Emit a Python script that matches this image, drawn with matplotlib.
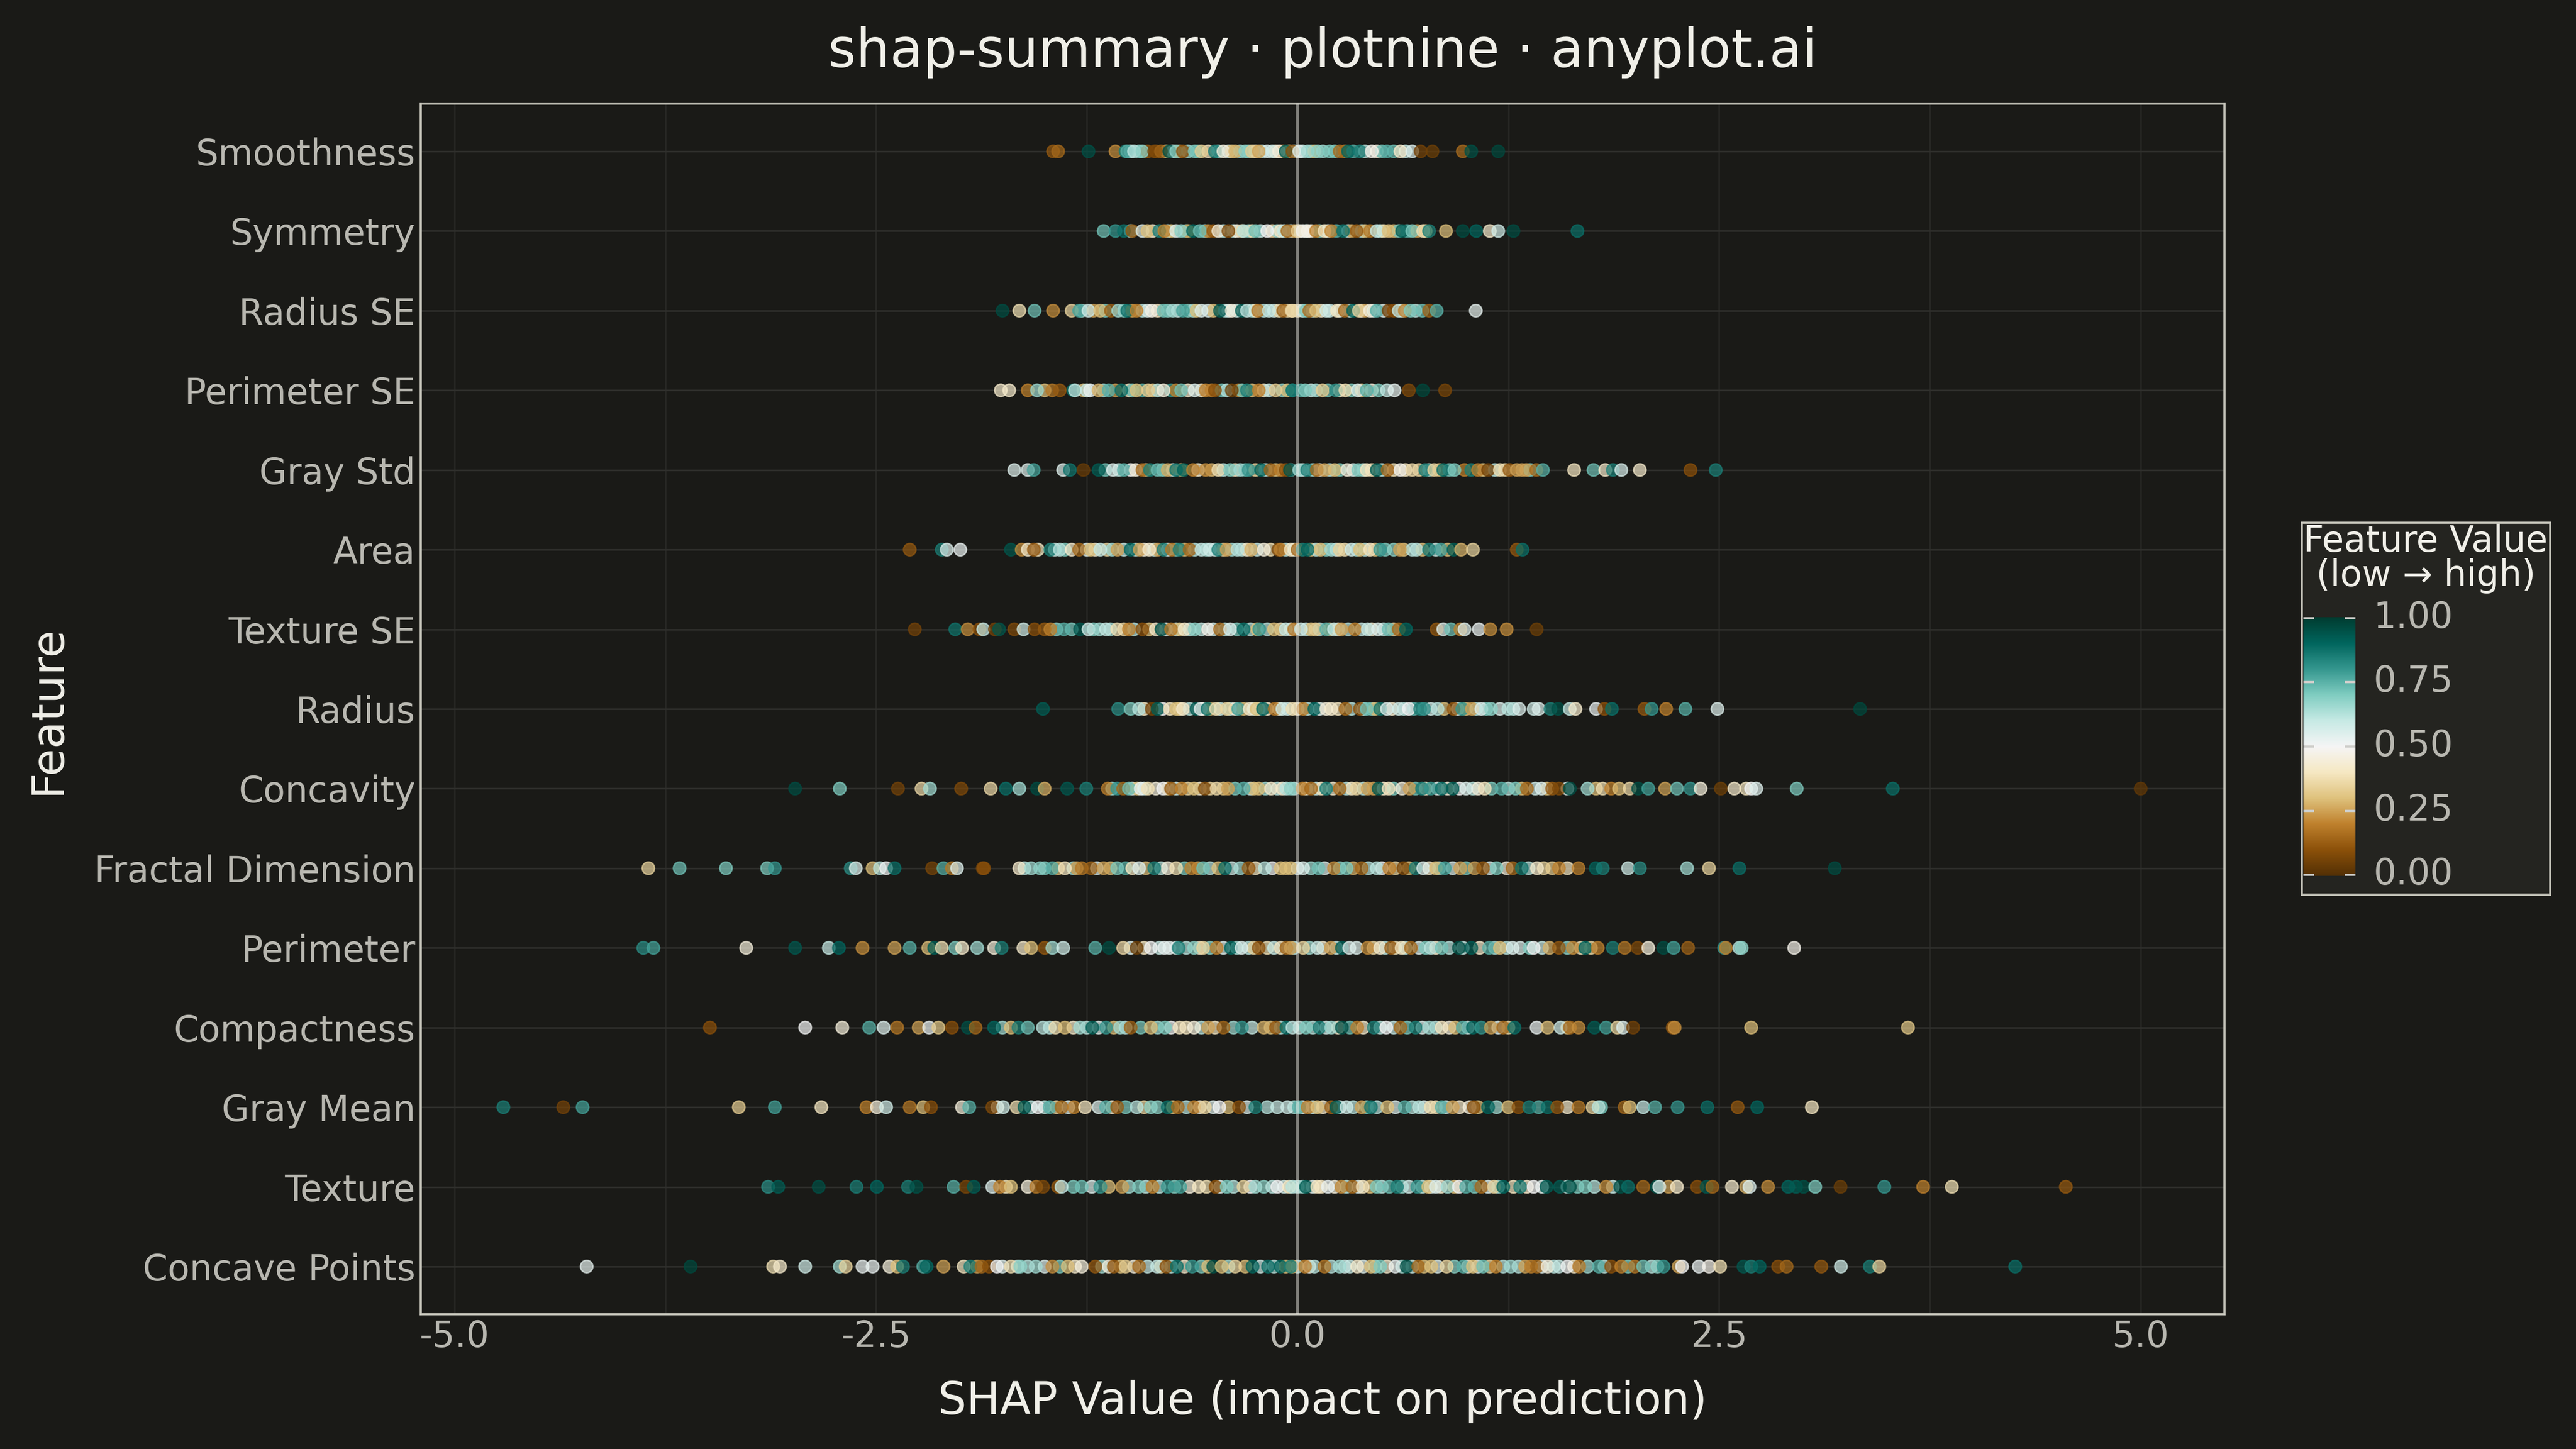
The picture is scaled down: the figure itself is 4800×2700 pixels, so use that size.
"""
SHAP summary strip chart, dark theme, one row of dots per feature.
Values below are read off the reference picture by eye.
"""

import matplotlib

matplotlib.use("Agg")

import matplotlib.pyplot as plt
import numpy as np
from matplotlib.patches import Rectangle
from matplotlib.transforms import ScaledTranslation

W_PX, H_PX = 4800, 2700
DPI = 300

BG = "#1A1A17"
LEGEND_BG = "#242420"
INK = "#F0EFE8"
INK_SOFT = "#B8B7B0"
BORDER = "#C2C1B7"
GRID_X = "#272724"
GRID_Y = "#30302D"

# bottom row first, so the row number is the y position
FEATURES = ["Concave Points", "Texture", "Gray Mean", "Compactness", "Perimeter",
            "Fractal Dimension", "Concavity", "Radius", "Texture SE", "Area",
            "Gray Std", "Perimeter SE", "Radius SE", "Symmetry", "Smoothness"]

X_TICKS = [-5.0, -2.5, 0.0, 2.5, 5.0]
X_LABELS = ["-5.0", "-2.5", "0.0", "2.5", "5.0"]
X_MINOR = [-3.75, -1.25, 1.25, 3.75]
BAR_TICKS = [0.0, 0.25, 0.5, 0.75, 1.0]
BAR_LABELS = ["0.00", "0.25", "0.50", "0.75", "1.00"]

# Dots that can be told apart in the picture.
smoothness_x = [-1.45, -1.42, -1.24, -1.08, -1.02, -1.01, -.97, -.92, -.85, -.84, -.81, -.76, -.72, -.68, -.61, -.57,
                -.49, -.44, -.37, -.31, -.27, -.23, -.15, -.11, -.07, -.03, .01, .06, .12, .19, .25, .30, .37, .44,
                .53, .61, .68, .73, .80, .98, 1.03, 1.19]
smoothness_v = [.12, .15, .95, .22, .85, .75, .62, .68, .06, .08, .14, .95, .68, .1, .7, .33,
                .85, .45, .28, .68, .33, .25, .58, .45, .92, .1, .55, .65, .68, .7, .15, .9, .85, .48,
                .75, .42, .55, .06, .05, .16, .95, .97]

symmetry_x = [-1.15, -1.08, -1.03, -.98, -.92, -.89, -.82, -.79, -.72, -.69, -.62, -.58, -.5, -.47, -.41, -.33, -.32,
              -.25, -.18, -.08, -.06, 0.0, .03, .06, .11, .16, .2, .27, .35, .43, .47, .54, .62, .68, .745, .78, .88,
              .98, 1.06, 1.14, 1.19, 1.28, 1.66]
symmetry_v = [.72, .8, .88, .12, .55, .3, .85, .2, .55, .68, .9, .72, .12, .45, .08, .36, .62,
              .72, .5, .6, .15, .33, .48, .47, .2, .4, .2, .88, .12, .18, .6, .3, .92, .7, .38, .85, .3,
              .96, .9, .42, .58, .96, .88]

radius_se_x = [-1.75, -1.65, -1.56, -1.45, -1.34, -1.295, -1.24, -1.17, -1.107, -1.064, -1.01, -.955, -.864, -.795,
               -.74, -.68, -.57, -.46, -.39, -.33, -.3, -.234, -.17, -.085, -.035, -.03, .07, .11, .17, .234, .28, .33,
               .364, .43, .47, .54, .57, .6, .636, .67, .74, .78, .825, 1.057]
radius_se_v = [.96, .38, .72, .22, .35, .78, .58, .3, .13, .65, .88, .2, .47, .72,
               .65, .78, .55, .93, .45, .92, .6, .18, .6, .14, .35, .36, .16, .3, .58, .4, .15, .9,
               .35, .45, .75, .06, .1, .6, .2, .7, .72, .14, .75, .53]

perimeter_se_x = [-1.76, -1.71, -1.6, -1.545, -1.455, -1.41, -1.33, -1.32, -1.23, -1.18, -1.12, -1.045, -.955, -.886,
                  -.795, -.69, -.61, -.545, -.49, -.39, -.3, -.23, -.13, -.03, -.03, .045, .148, .227, .284, .357, .41,
                  .53, .575, .66, .743, .875]
perimeter_se_v = [.42, .42, .2, .66, .18, .12, .88, .6, .52, .28, .75, .88, .3, .33,
                  .45, .72, .55, .2, .1, .05, .85, .2, .33, .88, .85, .7, .33, .82, .38, .55, .75,
                  .6, .53, .08, .97, .07]

gray_std_x = [-1.68, -1.6, -1.565, -1.39, -1.35, -1.27, -1.18, -1.095, -1.03, -.96, -.92, -.875, -.83, -.77, -.72,
              -.675, -.62, -.545, -.47, -.4, -.34, -.29, -.216, -.16, -.1, -.07, -.045, .01, .057, .114, .16, .22, .295,
              .36, .41, .47, .534, .61, .68, .757, .81, .864, .93, 1.03, 1.07, 1.13, 1.2, 1.257, 1.3, 1.357, 1.416,
              1.455, 1.64, 1.755, 1.825, 1.87, 1.92, 2.03, 2.33, 2.48]
gray_std_v = [.55, .55, .78, .55, .87, .04, .92, .55, .75, .45, .15, .85, .72, .27, .87,
              .9, .2, .22, .38, .7, .65, .8, .9, .14, .2, .1, .95, .65, .85, .15, .25, .3, .45,
              .7, .4, .92, .15, .48, .36, .85, .35, .88, .7, .85, .2, .06, .38, .12, .25, .25, .15,
              .75, .4, .72, .42, .85, .56, .42, .1, .85]

area_x = [-2.3, -2.11, -2.08, -2.0, -1.7, -1.636, -1.6, -1.564, -1.466, -1.41, -1.34, -1.295, -1.227, -1.17, -1.068,
          -.99, -.936, -.88, -.795, -.745, -.7, -.64, -.57, -.52, -.47, -.42, -.357, -.275, -.2, -.114, -.1, -.04,
          0.0, .03, .06, .136, .2, .25, .32, .37, .43, .49, .607, .705, .78, .85, .925, .97, 1.04, 1.3, 1.334]
area_v = [.12, .85, .55, .52, .94, .22, .42, .12, .85, .62, .42, .15, .3, .6, .25,
          .9, .25, .42, .85, .18, .85, .15, .6, .58, .85, .25, .62, .28, .45, .08, .2, .4,
          .15, .85, .9, .3, .65, .35, .58, .3, .4, .8, .25, .62, .85, .78, .92, .28, .35, .12, .88]

texture_se_x = [-2.27, -2.03, -1.956, -1.886, -1.864, -1.795, -1.77, -1.68, -1.625, -1.56, -1.5, -1.466, -1.386, -1.29,
                -1.24, -1.175, -1.136, -1.07, -1.0, -.92, -.84, -.807, -.75, -.67, -.61, -.53, -.46, -.4, -.32, -.227,
                -.14, -.07, -.02, .02, .107, .17, .216, .26, .34, .416, .477, .54, .6, .643, .825, .864, .91, .966,
                .99, 1.075, 1.143, 1.24, 1.418]
texture_se_v = [.06, .87, .22, .1, .6, .06, .94, .08, .58, .1, .12, .2, .75, .93,
                .58, .65, .6, .38, .2, .1, .42, .95, .18, .42, .68, .48, .15, .55, .88, .8,
                .3, .6, .18, .58, .33, .75, .6, .25, .2, .6, .55, .72, .15, .9, .12, .55, .72, .2,
                .55, .52, .22, .22, .05]

radius_x = [-1.51, -1.064, -.99, -.94, -.864, -.83, -.757, -.72, -.68, -.6, -.575, -.534, -.484, -.42, -.352, -.284,
            -.243, -.205, -.136, -.09, -.03, .034, .1, .17, .2, .284, .37, .41, .49, .53, .6, .66, .727, .75, .83,
            .925, .977, 1.034, 1.09, 1.148, 1.25, 1.314, 1.43, 1.5, 1.545, 1.614, 1.648, 1.77, 1.82, 1.864, 2.057,
            2.1, 2.186, 2.3, 2.49, 3.336]
radius_v = [.92, .82, .7, .62, .06, .92, .4, .3, .42, .92, .52, .88, .38, .35, .78, .42,
            .3, .9, .18, .58, .38, .2, .9, .45, .42, .15, .1, .72, .87, .55, .58, .5, .85, .8, .62,
            .12, .8, .25, .55, .68, .62, .55, .55, .85, .95, .6, .42, .52, .1, .88, .12,
            .8, .2, .75, .55, .97]

concavity_x = [-2.98, -2.715, -2.37, -2.23, -2.18, -1.995, -1.82, -1.73, -1.65, -1.545, -1.5, -1.366, -1.253, -1.125,
               -1.07, -1.034, -1.0, -.93, -.888, -.797, -.75, -.687, -.614, -.55, -.48, -.413, -.32, -.23, -.157, -.066,
               -.04, .03, .08, .17, .25, .35, .416, .48, .54, .665, .738, .79, .855, .92, 1.0, 1.11, 1.21, 1.293,
               1.36, 1.447, 1.51, 1.55, 1.615, 1.72, 1.81, 1.86, 1.907, 1.97, 2.02, 2.08, 2.18, 2.25, 2.33, 2.39,
               2.51, 2.59, 2.66, 2.69, 2.72, 2.96, 3.53, 5.0]
concavity_v = [.96, .7, .06, .36, .65, .08, .36, .88, .65, .96, .27, .93, .85, .2,
               .8, .15, .72, .52, .38, .5, .12, .2, .3, .08, .36, .25, .75, .3, .42, .62,
               .68, .2, .15, .85, .15, .35, .25, .93, .4, .25, .85, .8, .88, .92, .55, .4, .75, .7,
               .15, .55, .12, .08, .96, .65, .38, .2, .3, .36, .96, .78, .25, .72, .8, .45,
               .05, .42, .4, .5, .55, .7, .88, .03]

fractal_x = [-3.85, -3.665, -3.39, -3.146, -3.1, -2.65, -2.62, -2.52, -2.477, -2.44, -2.39, -2.167, -2.1, -2.05, -2.02,
             -1.867, -1.86, -1.65, -1.58, -1.527, -1.454, -1.38, -1.28, -1.224, -1.15, -1.07, -.94, -.85, -.72, -.63,
             -.56, -.43, -.29, -.194, -.1, -.04, .033, .124, .216, .29, .38, .47, .544, .628, .7, .745, .82, .873,
             .965, 1.1, 1.18, 1.275, 1.33, 1.42, 1.51, 1.55, 1.666, 1.768, 1.81, 1.96, 2.03, 2.31, 2.44, 2.62, 3.186]
fractal_v = [.35, .72, .7, .7, .8, .82, .55, .3, .62, .5, .88, .07, .75, .18, .55,
             .08, .1, .42, .65, .68, .75, .4, .18, .14, .25, .7, .55, .85, .38, .2,
             .72, .88, .12, .62, .3, .3, .55, .72, .22, .7, .15, .62, .2, .08, .85, .55, .3, .78,
             .25, .12, .7, .15, .87, .42, .33, .2, .2, .9, .85, .58, .82, .65, .35, .88, .96]

perimeter_x = [-3.88, -3.82, -3.27, -2.98, -2.78, -2.72, -2.58, -2.39, -2.3, -2.19, -2.155, -2.11, -2.03, -1.99, -1.9,
               -1.8, -1.755, -1.626, -1.58, -1.5, -1.454, -1.39, -1.2, -1.118, -1.034, -.954, -.87, -.76, -.705, -.614,
               -.56, -.48, -.395, -.332, -.23, -.1, -.066, -.04, .033, .117, .197, .263, .307, .416, .49, .555, .617,
               .672, .79, .855, .957, 1.03, 1.136, 1.2, 1.275, 1.377, 1.4, 1.494, 1.55, 1.633, 1.706, 1.78, 1.87,
               1.94, 2.017, 2.08, 2.17, 2.23, 2.316, 2.53, 2.54, 2.62, 2.634, 2.945]
perimeter_v = [.82, .78, .45, .93, .6, .9, .22, .25, .75, .3, .92, .38, .7, .42, .65,
               .45, .85, .42, .3, .12, .65, .58, .75, .96, .36, .05, .5, .53, .85, .68,
               .35, .2, .9, .55, .1, .4, .15, .25, .35, .58, .25, .92, .55, .22, .42, .12, .4,
               .15, .62, .72, .95, .92, .75, .3, .55, .7, .5, .28, .12, .22, .9, .2, .85,
               .18, .08, .45, .96, .78, .14, .8, .2, .62, .68, .48]

compactness_x = [-3.485, -2.92, -2.7, -2.54, -2.455, -2.375, -2.247, -2.185, -2.13, -2.05, -1.955, -1.91, -1.8, -1.655,
                 -1.6, -1.51, -1.436, -1.38, -1.29, -1.217, -1.136, -1.052, -.99, -.87, -.786, -.7, -.614, -.53, -.44,
                 -.33, -.2, -.128, -.066, -.03, .05, .13, .2, .263, .354, .453, .526, .61, .7, .78, .855, .935, .98,
                 1.04, 1.09, 1.147, 1.22, 1.286, 1.418, 1.483, 1.56, 1.615, 1.666, 1.76, 1.83, 1.896, 1.93, 1.99,
                 2.225, 2.236, 2.69, 3.62]
compactness_v = [.1, .5, .45, .75, .55, .18, .25, .52, .32, .1, .95, .15, .9, .85,
                 .72, .62, .38, .3, .65, .92, .8, .65, .13, .3, .7, .4, .45, .25, .15,
                 .8, .28, .12, .88, .6, .7, .85, .65, .95, .2, .85, .5, .15, .85, .65, .4, .3, .75,
                 .9, .8, .25, .15, .88, .52, .3, .58, .15, .22, .92, .78, .35, .55, .06,
                 .12, .22, .3, .32]

gray_mean_x = [-4.71, -4.355, -4.24, -3.314, -3.1, -2.824, -2.557, -2.495, -2.44, -2.3, -2.22, -2.174, -1.99, -1.947,
               -1.81, -1.746, -1.666, -1.62, -1.54, -1.47, -1.4, -1.326, -1.26, -1.136, -1.07, -.954, -.87, -.77, -.71,
               -.614, -.55, -.464, -.347, -.25, -.12, -.06, .007, .06, .117, .2, .23, .29, .38, .435, .533, .636, .72,
               .79, .855, .92, 1.02, 1.045, 1.13, 1.25, 1.31, 1.374, 1.483, 1.54, 1.666, 1.75, 1.785, 1.94, 1.97,
               2.05, 2.12, 2.254, 2.43, 2.61, 2.726, 3.05]
gray_mean_v = [.85, .06, .78, .33, .78, .4, .2, .45, .58, .18, .3, .1, .45, .75,
               .08, .58, .38, .92, .5, .75, .15, .2, .4, .75, .12, .62, .68, .88, .15,
               .2, .35, .5, .1, .85, .6, .58, .75, .2, .3, .14, .92, .58, .25, .87, .3, .75, .62,
               .38, .75, .25, .45, .1, .9, .3, .1, .85, .88, .12, .18, .35, .62, .15, .3,
               .6, .75, .8, .88, .12, .9, .4]

texture_x = [-3.14, -3.08, -2.84, -2.616, -2.495, -2.31, -2.26, -2.04, -1.966, -1.92, -1.81, -1.765, -1.7, -1.55, -1.51,
             -1.42, -1.4, -1.28, -1.17, -1.04, -.94, -.86, -.77, -.696, -.585, -.486, -.42, -.32, -.25, -.12, -.05,
             -.03, .05, .117, .18, .26, .325, .387, .47, .544, .59, .71, .775, .82, .89, .957, 1.0, 1.09, 1.165, 1.22,
             1.32, 1.4, 1.476, 1.556, 1.615, 1.706, 1.83, 1.914, 1.96, 2.05, 2.13, 2.145, 2.25, 2.37, 2.426, 2.46,
             2.576, 2.66, 2.68, 2.79, 2.91, 2.956, 3.0, 3.07, 3.22, 3.48, 3.71, 3.88, 4.556]
texture_v = [.82, .92, .95, .85, .9, .85, .95, .75, .07, .92, .55, .2, .3, .18, .08,
             .12, .6, .72, .8, .25, .7, .2, .8, .78, .4, .1, .7, .35, .65, .5, .4,
             .62, .92, .4, .52, .22, .15, .4, .7, .72, .85, .8, .3, .55, .65, .5, .75, .15, .35, .9,
             .85, .5, .92, .92, .95, .7, .22, .95, .88, .15, .95, .55, .42, .1, .93, .15,
             .42, .28, .55, .22, .9, .92, .95, .7, .05, .8, .2, .38, .12]

concave_x = [-4.216, -3.6, -3.11, -3.07, -2.92, -2.715, -2.68, -2.58, -2.52, -2.42, -2.375, -2.34, -2.22, -2.2, -2.1,
             -1.94, -1.874, -1.83, -1.783, -1.7, -1.644, -1.553, -1.454, -1.363, -1.28, -1.2, -1.09, -1.02, -.94, -.833,
             -.778, -.716, -.625, -.5, -.45, -.37, -.267, -.175, -.1, -.03, -.04, .044, .16, .25, .354, .435, .49,
             .58, .647, .716, .793, .884, .983, 1.04, 1.1, 1.176, 1.264, 1.385, 1.42, 1.483, 1.55, 1.6, 1.67, 1.787,
             1.86, 1.92, 2.0, 2.05, 2.134, 2.17, 2.26, 2.28, 2.38, 2.44, 2.506, 2.645, 2.69, 2.74, 2.85, 2.9, 3.106,
             3.222, 3.394, 3.45, 4.256]
concave_v = [.53, .97, .38, .42, .58, .65, .35, .52, .52, .45, .3, .85, .75, .9, .25,
             .85, .15, .1, .5, .38, .68, .65, .22, .3, .45, .12, .12, .33, .15, .6,
             .1, .88, .8, .95, .3, .35, .9, .88, .9, .25, .85, .2, .18, .65, .42, .3, .7,
             .52, .95, .15, .3, .35, .75, .3, .72, .2, .65, .2, .15, .45, .6, .5, .18, .75,
             .1, .2, .18, .72, .68, .8, .25, .5, .52, .48, .38, .93, .85, .9, .1, .15, .12,
             .58, .85, .35, .88]

# Dots half hidden behind those above, in the packed middle of each row; only slivers show.
smoothness_hid_x = [-.99, -.94, -.89, -.78, -.74, -.7, -.65, -.59, -.53, -.47, -.41, -.39, -.34, -.29, -.25, -.21, -.18,
                    -.13, -.09, -.05, -.02, .03, .08, .1, .15, .22, .28, .33, .4, .47, .5, .57, .64]
smoothness_hid_v = [.6, .7, .12, .3, .58, .25, .65, .75, .4, .68, .58, .3, .65, .7, .4, .62, .55,
                    .4, .2, .3, .62, .6, .7, .3, .65, .7, .2, .75, .62, .45, .72, .72, .6]

symmetry_hid_x = [-.99, -.86, -.77, -.75, -.66, -.65, -.55, -.53, -.44, -.38, -.36, -.29, -.27, -.22, -.15, -.12, -.1,
                  -.04, -.02, .01, .05, .08, .13, .18, .23, .3, .32, .38, .4, .49, .51, .57, .6, .65, .71, .76]
symmetry_hid_v = [.65, .42, .62, .3, .7, .25, .65, .2, .62, .62, .45, .68, .38, .6, .35, .65, .42,
                  .58, .25, .55, .6, .42, .68, .55, .75, .6, .25, .62, .3, .65, .38, .28, .7, .75, .25, .3]

radius_se_hid_x = [-1.28, -1.21, -1.14, -1.03, -.98, -.92, -.89, -.83, -.77, -.71, -.65, -.62, -.6, -.53, -.5, -.43,
                   -.41, -.36, -.27, -.25, -.2, -.14, -.11, -.06, 0.0, .03, .05, .09, .14, .19, .25, .31, .38, .4, .45,
                   .51, .62, .7]
radius_se_hid_v = [.65, .25, .7, .7, .25, .62, .55, .4, .68, .6, .7, .65, .3, .55, .3, .65,
                   .55, .6, .65, .4, .62, .58, .38, .36, .38, .58, .7, .62, .42, .6, .56, .6, .5, .25, .6,
                   .55, .58, .62]

perimeter_se_hid_x = [-1.5, -1.27, -1.25, -1.15, -1.08, -1.0, -.98, -.92, -.86, -.83, -.75, -.72, -.65, -.57, -.51,
                      -.45, -.42, -.35, -.33, -.27, -.2, -.17, -.09, -.06, .02, .08, .11, .18, .25, .32, .38, .44, .48]
perimeter_se_hid_v = [.3, .3, .6, .65, .25, .4, .72, .75, .3, .62, .8, .2, .42, .4, .2,
                      .72, .62, .2, .7, .3, .4, .6, .68, .3, .75, .6, .65, .72, .42, .7, .3, .45, .7]

gray_std_hid_x = [-1.14, -1.06, -.99, -.9, -.8, -.74, -.69, -.59, -.51, -.44, -.37, -.31, -.25, -.19, -.13, -.04, .03,
                  .09, .13, .19, .25, .33, .39, .44, .5, .57, .64, .72, .78, .84, .9, .99, 1.1, 1.17, 1.23, 1.33, 1.38]
gray_std_hid_v = [.72, .62, .5, .3, .7, .6, .3, .42, .28, .62, .4, .75, .35, .62, .3, .7, .58,
                  .65, .45, .62, .7, .58, .62, .38, .62, .38, .4, .35, .65, .3, .72, .2, .3, .62, .35, .25, .7]

area_hid_x = [-1.54, -1.44, -1.38, -1.25, -1.2, -1.13, -1.1, -1.03, -.96, -.91, -.85, -.83, -.77, -.72, -.67, -.61, -.54,
              -.49, -.44, -.39, -.33, -.3, -.24, -.16, -.07, -.02, .08, .11, .17, .23, .28, .35, .4, .46, .52, .57, .63,
              .68, .74, .82, .89]
area_hid_v = [.4, .6, .7, .55, .42, .35, .65, .6, .62, .45, .6, .25, .55, .7, .3, .62, .65,
              .58, .35, .65, .62, .42, .6, .38, .62, .55, .3, .62, .7, .55, .38, .65, .62, .3, .7, .68, .3,
              .62, .3, .6, .3]

texture_se_hid_x = [-1.43, -1.34, -1.21, -1.11, -1.03, -.97, -.88, -.78, -.72, -.7, -.64, -.57, -.5, -.43, -.36, -.28,
                    -.24, -.18, -.1, -.04, .05, .08, .13, .19, .24, .3, .38, .44, .51, .57]
texture_se_hid_v = [.68, .7, .7, .65, .35, .62, .3, .55, .6, .3, .62, .6, .58, .62, .7, .62,
                    .3, .62, .38, .42, .6, .3, .62, .3, .4, .62, .6, .42, .62, .35]

radius_hid_x = [-.91, -.8, -.7, -.64, -.56, -.52, -.46, -.4, -.37, -.32, -.26, -.23, -.18, -.11, -.06, 0.0, .06, .13,
                .24, .32, .39, .44, .46, .56, .63, .69, .79, .87, .95, 1.0, 1.06, 1.12, 1.2, 1.28, 1.4]
radius_hid_v = [.4, .5, .35, .62, .42, .3, .6, .62, .45, .3, .58, .6, .42, .4, .58, .42, .62, .55,
                .4, .62, .58, .7, .3, .42, .62, .75, .58, .3, .55, .3, .62, .7, .55, .62, .58]

concavity_hid_x = [-1.1, -.98, -.95, -.91, -.84, -.77, -.72, -.65, -.58, -.52, -.44, -.37, -.28, -.26, -.19, -.12, -.09,
                   -.02, .05, .11, .14, .21, .29, .32, .39, .45, .51, .57, .62, .7, .76, .83, .89, .96, 1.04, 1.07, 1.15,
                   1.25, 1.33, 1.41, 1.48, 1.6, 1.77]
concavity_hid_v = [.65, .55, .3, .6, .45, .3, .58, .35, .42, .35, .3, .7, .6, .3, .65, .62, .42,
                   .62, .4, .6, .4, .42, .62, .4, .62, .25, .42, .7, .45, .72, .42, .55, .45, .5, .62, .45, .7,
                   .62, .3, .58, .3, .55, .3]

fractal_hid_x = [-1.62, -1.5, -1.42, -1.33, -1.31, -1.19, -1.11, -1.02, -.98, -.9, -.81, -.77, -.67, -.59, -.52, -.47,
                 -.39, -.34, -.25, -.15, -.07, 0.0, .08, .16, .25, .33, .42, .5, .58, .66, .78, .84, .92, 1.0, 1.05,
                 1.14, 1.24, 1.37, 1.46, 1.6]
fractal_hid_v = [.62, .7, .3, .65, .25, .55, .3, .75, .4, .3, .62, .45, .7, .25, .62, .3,
                 .58, .65, .4, .5, .3, .55, .65, .55, .68, .28, .62, .5, .35, .3, .42, .65, .55, .7, .25,
                 .55, .45, .62, .35, .4]

perimeter_hid_x = [-.99, -.91, -.82, -.79, -.72, -.66, -.58, -.52, -.44, -.36, -.29, -.26, -.18, -.14, -.02, .07, .15,
                   .23, .35, .45, .52, .58, .64, .72, .76, .82, .9, .98, 1.08, 1.17, 1.24, 1.32, 1.45, 1.6, 1.68, 1.74]
perimeter_hid_v = [.55, .4, .6, .52, .55, .62, .42, .68, .55, .65, .62, .35, .38, .6, .62, .65, .42,
                   .6, .55, .35, .62, .38, .62, .55, .7, .42, .62, .6, .42, .65, .62, .55, .6, .68, .38, .35]

compactness_hid_x = [-1.75, -1.7, -1.47, -1.33, -1.25, -1.18, -1.09, -1.02, -.93, -.83, -.75, -.66, -.57, -.49, -.38,
                     -.27, -.16, -.1, .01, .09, .17, .24, .31, .39, .49, .57, .65, .74, .82, .9, 1.01, 1.19, 1.25, 1.6]
compactness_hid_v = [.65, .3, .62, .42, .62, .55, .3, .62, .7, .65, .5, .4, .62, .4, .65,
                     .6, .3, .62, .6, .62, .58, .42, .72, .42, .62, .6, .7, .55, .62, .45, .6, .55, .35, .3]

gray_mean_hid_x = [-1.78, -1.58, -1.5, -1.43, -1.36, -1.18, -1.1, -1.02, -.91, -.83, -.74, -.66, -.58, -.5, -.41, -.3,
                   -.18, -.02, .03, .09, .15, .25, .33, .41, .47, .58, .68, .75, .82, .88, .96, 1.07, 1.18, 1.43, 1.6, 1.8]
gray_mean_hid_v = [.45, .62, .62, .35, .55, .55, .42, .7, .35, .68, .3, .62, .42, .55, .3, .55,
                   .62, .65, .55, .6, .42, .58, .62, .7, .62, .55, .62, .55, .38, .6, .42, .3, .65, .75, .42, .72]

texture_hid_x = [-1.73, -1.6, -1.33, -1.22, -1.12, -1.0, -.9, -.82, -.73, -.64, -.54, -.46, -.38, -.28, -.2, -.15, -.08,
                 0.0, .03, .09, .14, .22, .29, .36, .43, .5, .62, .66, .74, .79, .85, .93, 1.05, 1.13, 1.19, 1.28, 1.36,
                 1.45, 1.6, 1.66, 1.76, 1.87, 2.2]
texture_hid_v = [.38, .45, .7, .55, .3, .65, .62, .62, .7, .45, .38, .55, .62, .5, .68, .62, .58,
                 .62, .65, .55, .4, .45, .62, .55, .3, .62, .68, .58, .62, .55, .42, .3, .7, .55, .65, .4, .42,
                 .55, .62, .7, .62, .6, .25]

concave_hid_x = [-1.98, -1.9, -1.75, -1.66, -1.6, -1.5, -1.41, -1.32, -1.16, -1.12, -1.05, -.97, -.89, -.81, -.75, -.67,
                 -.57, -.53, -.41, -.31, -.22, -.14, -.07, 0.0, .07, .1, .2, .28, .31, .39, .46, .53, .62, .68, .75, .83,
                 .93, 1.01, 1.07, 1.14, 1.22, 1.31, 1.35, 1.45, 1.52, 1.64, 1.72, 1.82, 1.96, 2.1]
concave_hid_v = [.4, .25, .55, .6, .62, .55, .7, .42, .65, .45, .3, .45, .6, .35, .62, .42,
                 .7, .3, .65, .3, .58, .62, .3, .62, .45, .62, .62, .58, .6, .55, .65, .42, .65, .6, .3, .55,
                 .68, .45, .55, .35, .62, .62, .25, .55, .62, .4, .65, .62, .7, .62]

ROW_X = [concave_x, texture_x, gray_mean_x, compactness_x, perimeter_x, fractal_x, concavity_x, radius_x,
         texture_se_x, area_x, gray_std_x, perimeter_se_x, radius_se_x, symmetry_x, smoothness_x]
ROW_V = [concave_v, texture_v, gray_mean_v, compactness_v, perimeter_v, fractal_v, concavity_v, radius_v,
         texture_se_v, area_v, gray_std_v, perimeter_se_v, radius_se_v, symmetry_v, smoothness_v]
HID_X = [concave_hid_x, texture_hid_x, gray_mean_hid_x, compactness_hid_x, perimeter_hid_x, fractal_hid_x,
         concavity_hid_x, radius_hid_x, texture_se_hid_x, area_hid_x, gray_std_hid_x, perimeter_se_hid_x,
         radius_se_hid_x, symmetry_hid_x, smoothness_hid_x]
HID_V = [concave_hid_v, texture_hid_v, gray_mean_hid_v, compactness_hid_v, perimeter_hid_v, fractal_hid_v,
         concavity_hid_v, radius_hid_v, texture_se_hid_v, area_hid_v, gray_std_hid_v, perimeter_se_hid_v,
         radius_se_hid_v, symmetry_hid_v, smoothness_hid_v]


def axes_box(fig, left, top, right, bottom):
    return fig.add_axes([left / W_PX, 1 - bottom / H_PX, (right - left) / W_PX, (bottom - top) / H_PX])


def put_text(fig, x, y, s, **kw):
    fig.text(x / W_PX, 1 - y / H_PX, s, ha="center", va="center", **kw)


def main() -> None:
    fig = plt.figure(figsize=(W_PX / DPI, H_PX / DPI), dpi=DPI, facecolor=BG)
    ax = axes_box(fig, 784, 193, 4145, 2449)
    ax.set_facecolor(BG)

    cmap = plt.get_cmap("BrBG")
    style = dict(cmap=cmap, vmin=0, vmax=1, s=31, alpha=0.7, edgecolors="face", linewidths=0.65, zorder=3)
    for row, (xs, vs) in enumerate(zip(HID_X, HID_V), start=1):
        ax.scatter(xs, [row] * len(xs), c=vs, **style)
    for row, (xs, vs) in enumerate(zip(ROW_X, ROW_V), start=1):
        ax.scatter(xs, [row] * len(xs), c=vs, **style)

    # Zero reference sits above the dots; they show through it.
    ax.axvline(0, color=INK, alpha=0.45, lw=1.4, zorder=4)

    ax.set_xlim(-5.2, 5.497)
    ax.set_ylim(0.4, 15.6)
    ax.set_xticks(X_TICKS, X_LABELS)
    ax.set_xticks(X_MINOR, minor=True)
    ax.set_yticks(range(1, len(FEATURES) + 1), FEATURES)
    ax.grid(True, axis="x", which="both", color=GRID_X, lw=0.7, zorder=1)
    ax.grid(True, axis="y", which="major", color=GRID_Y, lw=0.7, zorder=1)
    ax.set_axisbelow(True)
    ax.tick_params(which="both", length=0, labelsize=16, labelcolor=INK_SOFT)
    ax.tick_params(axis="x", pad=2.2)
    ax.tick_params(axis="y", pad=2.4)
    for spine in ax.spines.values():
        spine.set_color(BORDER)
        spine.set_linewidth(1.0)

    put_text(fig, 2464, 97, "shap-summary · plotnine · anyplot.ai", fontsize=24, color=INK)
    put_text(fig, 2464, 2611, "SHAP Value (impact on prediction)", fontsize=20, color=INK)
    put_text(fig, 88, 1322, "Feature", fontsize=20, color=INK, rotation=90)

    # Legend panel, hand built to match plotnine's box; it goes under the colour bar axes.
    fig.patches.append(Rectangle((4289 / W_PX, 1 - 1667 / H_PX), 463 / W_PX, 693 / H_PX,
                                 transform=fig.transFigure, figure=fig, facecolor=LEGEND_BG,
                                 edgecolor=BORDER, lw=1.0, zorder=-1))
    put_text(fig, 4520, 1041, "Feature Value\n(low → high)", fontsize=16, color=INK, linespacing=0.95)

    cax = axes_box(fig, 4292, 1150, 4389, 1632)
    cax.imshow(np.linspace(0, 1, 256)[:, None], cmap=cmap, origin="lower", aspect="auto",
               extent=[0, 1, -0.004, 1.004], interpolation="bilinear")
    cax.set_xticks([])
    cax.set_yticks(BAR_TICKS, BAR_LABELS)
    cax.yaxis.tick_right()
    cax.tick_params(axis="y", direction="in", left=True, right=True, length=4.8, width=1.0, color="#CFCFCB",
                    labelsize=16, labelcolor=INK_SOFT, pad=8.0)
    # plotnine sets these labels a little above their ticks
    nudge = ScaledTranslation(0, 8 / DPI, fig.dpi_scale_trans)
    for label in cax.get_yticklabels():
        label.set_transform(label.get_transform() + nudge)
    for spine in cax.spines.values():
        spine.set_visible(False)

    fig.savefig("out.png", dpi=DPI, facecolor=BG)
    plt.close(fig)


if __name__ == "__main__":
    main()
